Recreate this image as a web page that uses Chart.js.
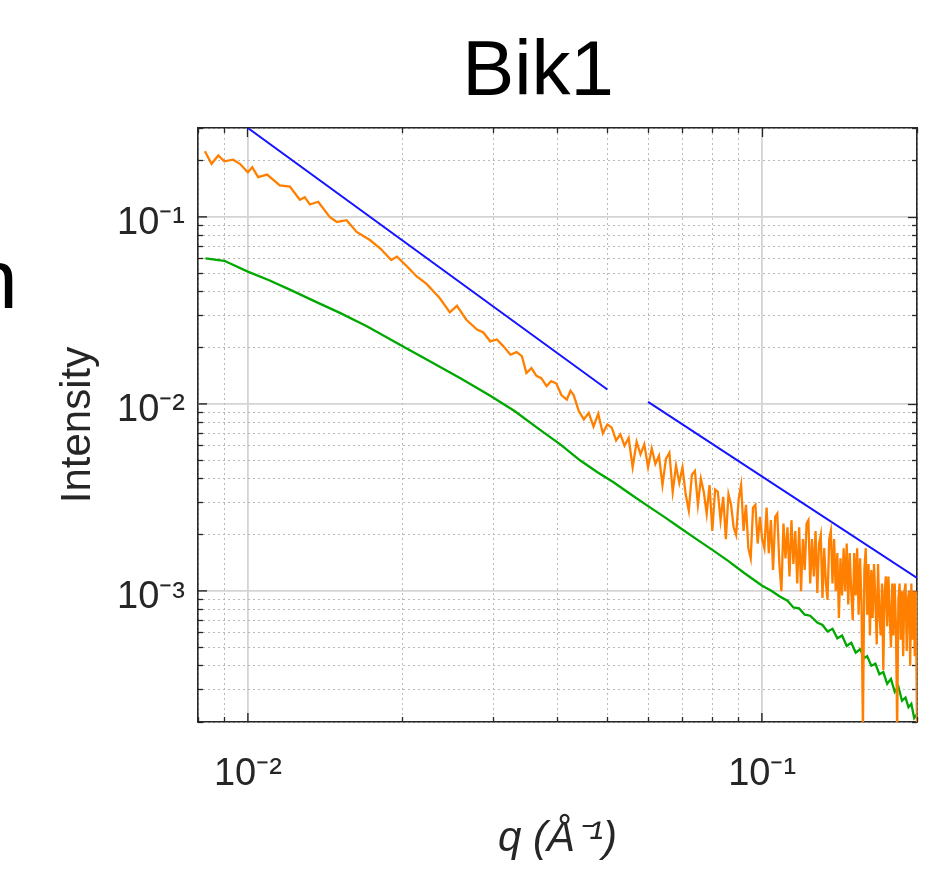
<!DOCTYPE html>
<html>
<head>
<meta charset="utf-8">
<script src="https://cdn.jsdelivr.net/npm/chart.js@4.4.0/dist/chart.umd.min.js"></script>
<style>
  html, body { margin: 0; padding: 0; background: #fff; }
</style>
</head>
<body>
<canvas id="c" width="928" height="873"></canvas>
<script>
// measured curve (orange)
var orangeQ = [0.00825, 0.0085, 0.00876, 0.009, 0.00936, 0.00965, 0.0100, 0.0102, 0.01047, 0.0109,
  0.01154, 0.01207, 0.01262, 0.0129, 0.0132, 0.0137, 0.01444, 0.0149, 0.01556, 0.01628,
  0.01727, 0.0181, 0.0190, 0.0195, 0.0204, 0.0213, 0.02226, 0.0236, 0.0247, 0.0255,
  0.0266, 0.0279, 0.0287, 0.0296, 0.0305, 0.0314, 0.0324, 0.0333, 0.0341, 0.0348,
  0.0356, 0.0364, 0.0372, 0.0381, 0.0389, 0.0398, 0.0407, 0.0417, 0.0424, 0.043,
  0.044, 0.045, 0.046, 0.047, 0.048, 0.049, 0.050, 0.051, 0.052, 0.053,
  0.054, 0.055, 0.056, 0.057, 0.058, 0.059, 0.060, 0.061, 0.062, 0.063,
  0.064, 0.065, 0.066, 0.067, 0.068, 0.069, 0.070, 0.071, 0.072, 0.073,
  0.074, 0.075, 0.076, 0.077, 0.078, 0.079, 0.080, 0.081, 0.082, 0.083,
  0.084, 0.085, 0.086, 0.087, 0.088, 0.089, 0.090, 0.091, 0.092, 0.093,
  0.094, 0.095, 0.096, 0.097, 0.098, 0.099, 0.100, 0.101, 0.102, 0.103,
  0.104, 0.105, 0.106, 0.107, 0.108, 0.109, 0.110, 0.111, 0.112, 0.113,
  0.114, 0.115, 0.116, 0.117, 0.118, 0.119, 0.120, 0.121, 0.122, 0.123,
  0.124, 0.125, 0.126, 0.127, 0.128, 0.129, 0.130, 0.131, 0.132, 0.133,
  0.134, 0.135, 0.136, 0.137, 0.138, 0.139, 0.140, 0.141, 0.142, 0.143,
  0.144, 0.145, 0.146, 0.147, 0.148, 0.149, 0.150, 0.151, 0.152, 0.153,
  0.154, 0.155, 0.156, 0.157, 0.158, 0.159, 0.160, 0.161, 0.162, 0.163,
  0.164, 0.165, 0.166, 0.167, 0.168, 0.169, 0.170, 0.171, 0.172, 0.173,
  0.174, 0.175, 0.176, 0.177, 0.178, 0.179, 0.180, 0.181, 0.182, 0.183,
  0.184, 0.185, 0.186, 0.187, 0.188, 0.189, 0.190, 0.191, 0.192, 0.193,
  0.194, 0.195, 0.196, 0.197, 0.198, 0.199, 0.200];
var orangeI = [0.2255, 0.193, 0.214, 0.199, 0.203, 0.193, 0.174, 0.185, 0.164, 0.169,
  0.148, 0.146, 0.124, 0.128, 0.117, 0.121, 0.100, 0.0944, 0.0964, 0.0835,
  0.0755, 0.068, 0.059, 0.0616, 0.0545, 0.0482, 0.044, 0.037, 0.031, 0.0336,
  0.0283, 0.0251, 0.0242, 0.0217, 0.0222, 0.0204, 0.0184, 0.0190, 0.0181, 0.0147,
  0.0156, 0.0142, 0.0138, 0.0125, 0.0133, 0.0129, 0.0112, 0.0106, 0.0118, 0.0112,
  0.0092, 0.0083, 0.0090, 0.0076, 0.0089, 0.0070, 0.0078, 0.0075, 0.0064, 0.0069,
  0.0060, 0.0066, 0.0046, 0.0063, 0.0054, 0.0061, 0.0046, 0.0058, 0.0048, 0.0053,
  0.0037, 0.0051, 0.0055, 0.0034, 0.0047, 0.0038, 0.0046, 0.0033, 0.0027, 0.0042,
  0.0044, 0.0029, 0.0040, 0.0034, 0.0026, 0.0037, 0.0021, 0.0035, 0.0034, 0.0024,
  0.0032, 0.0019, 0.0033, 0.0029, 0.0022, 0.0020, 0.0031, 0.0037, 0.0021, 0.0029,
  0.0017, 0.0015, 0.0028, 0.0029, 0.0018, 0.0025, 0.0019, 0.0017, 0.0028, 0.0016,
  0.0024, 0.0013, 0.0025, 0.0026, 0.0014, 0.0010, 0.0023, 0.0015, 0.0022, 0.0012,
  0.0024, 0.0014, 0.0021, 0.0011, 0.0022, 0.0010, 0.0019, 0.0013, 0.0023, 0.0024,
  0.0011, 0.0019, 0.0012, 0.0021, 0.00098, 0.0018, 0.0020, 0.00092, 0.0017, 0.0011,
  0.00090, 0.0019, 0.0021, 0.0011, 0.0019, 0.0010, 0.0016, 0.00072, 0.0015, 0.00095,
  0.0017, 0.0010, 0.0018, 0.00085, 0.0016, 0.0010, 0.00070, 0.0016, 0.00095, 0.0017,
  0.00075, 0.0015, 0.00085, 0.00018, 0.0013, 0.0017, 0.00075, 0.0014, 0.00058, 0.0013,
  0.00072, 0.0014, 0.0009, 0.00052, 0.0014, 0.00075, 0.00058, 0.0011, 0.00038, 0.0010,
  0.0012, 0.00065, 0.0012, 0.00075, 0.0005, 0.0011, 0.00058, 0.0011, 0.00065, 0.00018,
  0.0009, 0.0011, 0.00055, 0.0010, 0.00045, 0.0010, 0.0011, 0.00048, 0.0009, 0.0010,
  0.0004, 0.0011, 0.00055, 0.0010, 0.00045, 0.0010, 0.00018];

// reference curve (green)
var greenQ = [0.00827, 0.0090, 0.0100, 0.0110, 0.0121, 0.0135, 0.0151, 0.0170, 0.0200, 0.0230,
  0.0260, 0.0296, 0.0330, 0.0370, 0.0405, 0.0443, 0.0480, 0.0514, 0.0555, 0.0597,
  0.0645, 0.0693, 0.0745, 0.0804, 0.0860, 0.0920, 0.1000, 0.1040, 0.1080, 0.1120,
  0.1150, 0.1180, 0.1210, 0.1240, 0.1280, 0.1310, 0.1340, 0.1370, 0.1400, 0.1430,
  0.1460, 0.1490, 0.1520, 0.1550, 0.1580, 0.1600, 0.1630, 0.1660, 0.1690, 0.1720,
  0.1750, 0.1780, 0.1810, 0.1840, 0.1870, 0.1900, 0.1925, 0.1950, 0.1975, 0.2000];
var greenI = [0.0603, 0.0585, 0.0512, 0.0460, 0.0409, 0.0355, 0.0308, 0.0262, 0.0204, 0.0165,
  0.0137, 0.0111, 0.0092, 0.0073, 0.0061, 0.0050, 0.0043, 0.00383, 0.0033, 0.00288,
  0.0025, 0.00218, 0.00190, 0.00165, 0.00145, 0.00126, 0.00107, 0.00101, 0.00094, 0.00089,
  0.00082, 0.00081, 0.00075, 0.00074, 0.00068, 0.00066, 0.00061, 0.00063, 0.00056, 0.00058,
  0.00051, 0.00053, 0.00047, 0.00049, 0.00044, 0.00045, 0.00040, 0.00041, 0.00036, 0.00037,
  0.00032, 0.00034, 0.00029, 0.00031, 0.00026, 0.00027, 0.00024, 0.00025, 0.00021, 0.00022];

// power-law guide lines (blue), null = gap
var fitQ = [0.01, 0.05, 0.055, 0.06, 0.2];
var fitI = [0.3, 0.012, null, 0.0103, 0.00118];

var xMin = 0.008, xMax = 0.2;
var yMin = 2e-4, yMax = 0.3;
var xMajor = [0.01, 0.1];
var xMinor = [0.008, 0.009, 0.02, 0.03, 0.04, 0.05, 0.06, 0.07, 0.08, 0.09, 0.2];
var yMajor = [0.001, 0.01, 0.1];
var yMinor = [2e-4, 3e-4, 4e-4, 5e-4, 6e-4, 7e-4, 8e-4, 9e-4,
  0.002, 0.003, 0.004, 0.005, 0.006, 0.007, 0.008, 0.009,
  0.02, 0.03, 0.04, 0.05, 0.06, 0.07, 0.08, 0.09, 0.2, 0.3];

var FONT = '"Liberation Sans", Arial, Helvetica, sans-serif';
var AX = '#262626';

function pts(q, v) {
  return q.map(function (x, i) { return { x: x, y: v[i] }; });
}

var sup = { '-': '\u207B', '0': '\u2070', '1': '\u00B9', '2': '\u00B2', '3': '\u00B3', '4': '\u2074' };
function powLabel(v) {
  var e = String(Math.round(Math.log10(v)));
  return '10' + e.split('').map(function (c) { return sup[c]; }).join('');
}

function setTicks(vals) {
  return function (s) { s.ticks = vals.map(function (v) { return { value: v }; }); };
}

// thin helper axes: only grid lines / inward tick marks, no labels
function helperAxis(pos, min, max, vals, gridColor, dash, tl, onArea, showBorder) {
  return {
    type: 'logarithmic', position: pos, display: true, min: min, max: max, weight: 0,
    afterBuildTicks: setTicks(vals),
    afterFit: function (s) { if (s.isHorizontal()) s.height = 0; else s.width = 0; },
    ticks: { display: false },
    grid: { drawOnChartArea: onArea, color: gridColor, lineWidth: 1, drawTicks: true,
            tickLength: tl, tickColor: AX, tickWidth: 1.3 },
    border: { display: showBorder, color: AX, width: 1.6, dash: dash }
  };
}

// title + clipped neighbour label
var textPlugin = {
  id: 'texts',
  afterDraw: function (chart) {
    var ctx = chart.ctx;
    ctx.save();
    ctx.fillStyle = '#000';
    ctx.font = '78px ' + FONT;
    ctx.textAlign = 'center';
    ctx.textBaseline = 'alphabetic';
    ctx.fillText('Bik1', 538, 95);
    ctx.textAlign = 'left';
    ctx.font = '84px ' + FONT;
    ctx.fillText('n', -29, 308);
    ctx.restore();
  }
};

new Chart(document.getElementById('c'), {
  type: 'line',
  data: {
    datasets: [
      { data: pts(orangeQ, orangeI), borderColor: '#ff8000', borderWidth: 2.3, pointRadius: 0, tension: 0 },
      { data: pts(greenQ, greenI), borderColor: '#00a800', borderWidth: 2.3, pointRadius: 0, tension: 0 },
      { data: pts(fitQ, fitI), borderColor: '#1414ff', borderWidth: 2, pointRadius: 0, tension: 0, spanGaps: false }
    ]
  },
  plugins: [textPlugin],
  options: {
    responsive: false,
    animation: false,
    devicePixelRatio: 1,
    layout: { padding: { top: 128, left: 0, right: 11, bottom: 0 } },
    plugins: { legend: { display: false }, tooltip: { enabled: false }, title: { display: false } },
    scales: {
      x: {
        type: 'logarithmic', position: 'bottom', min: xMin, max: xMax, weight: 1,
        afterBuildTicks: setTicks(xMajor),
        afterFit: function (s) { s.height = 151; },
        grid: { color: '#d4d4d4', lineWidth: 1.8, drawTicks: true, tickLength: -9, tickColor: AX, tickWidth: 1.4 },
        border: { display: true, color: AX, width: 1.6 },
        ticks: { callback: function (v) { return powLabel(v); }, font: { family: FONT, size: 38 },
                 color: AX, padding: 39, maxRotation: 0, autoSkip: false },
        title: { display: true, text: 'q (\u00C5\u207B\u00B9)', color: AX,
                 font: { family: FONT, size: 42, style: 'italic' }, padding: { top: 0, bottom: 8 } }
      },
      y: {
        type: 'logarithmic', position: 'left', min: yMin, max: yMax, weight: 1,
        afterBuildTicks: setTicks(yMajor),
        afterFit: function (s) { s.width = 198; },
        grid: { color: '#d4d4d4', lineWidth: 1.8, drawTicks: true, tickLength: -9, tickColor: AX, tickWidth: 1.4 },
        border: { display: true, color: AX, width: 1.6 },
        ticks: { callback: function (v) { return powLabel(v); }, font: { family: FONT, size: 38 },
                 color: AX, padding: 22, labelOffset: 6, autoSkip: false },
        title: { display: true, text: 'Intensity', color: AX,
                 font: { family: FONT, size: 42 }, padding: { top: 53, bottom: 0 } }
      },
      xm: helperAxis('bottom', xMin, xMax, xMinor, '#b9b9b9', [2, 3], -5, true, false),
      ym: helperAxis('left', yMin, yMax, yMinor, '#b9b9b9', [2, 3], -5, true, false),
      xt: helperAxis('top', xMin, xMax, xMajor, 'rgba(0,0,0,0)', [], -9, false, true),
      xtm: helperAxis('top', xMin, xMax, xMinor, 'rgba(0,0,0,0)', [], -5, false, false),
      yr: helperAxis('right', yMin, yMax, yMajor, 'rgba(0,0,0,0)', [], -9, false, true),
      yrm: helperAxis('right', yMin, yMax, yMinor, 'rgba(0,0,0,0)', [], -5, false, false)
    }
  }
});
</script>
</body>
</html>
